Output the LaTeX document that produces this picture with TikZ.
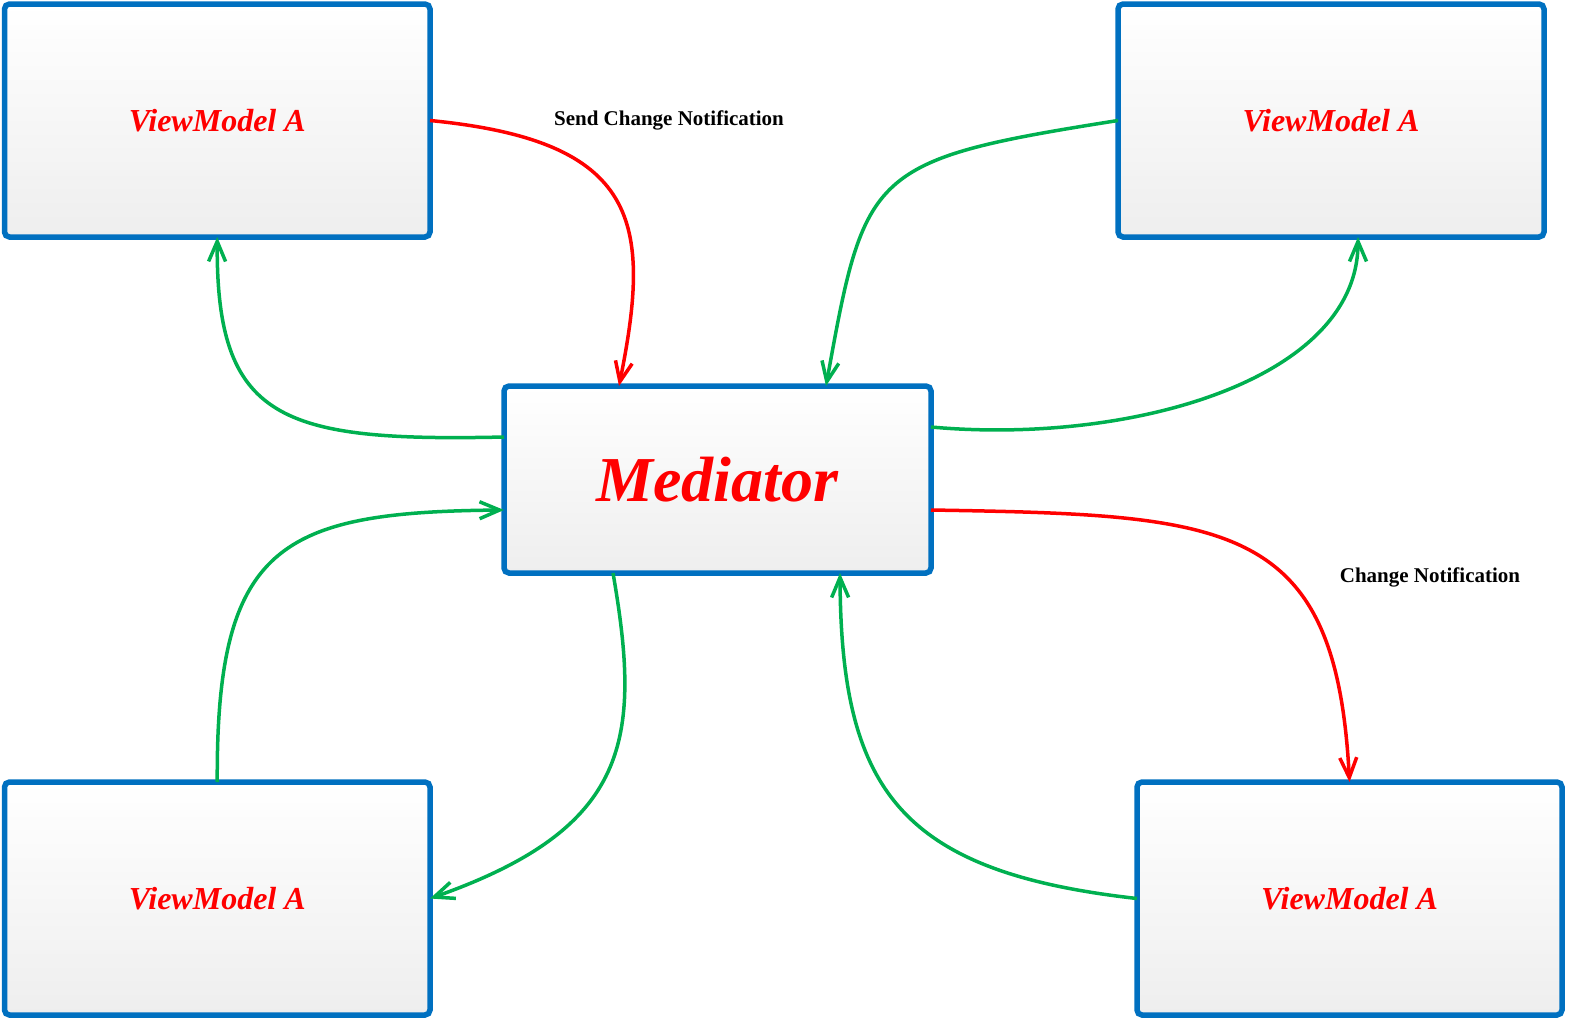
\documentclass[tikz,border=0pt]{standalone}
\usepackage{fontspec}
\setmainfont{Liberation Serif}
\usetikzlibrary{arrows.meta}
\definecolor{bblue}{RGB}{0,112,192}
\definecolor{cgreen}{RGB}{0,176,80}
\definecolor{cred}{RGB}{255,0,0}
\definecolor{fillbot}{RGB}{238,238,238}
\tikzset{
  box/.style={draw=bblue, line width=5.5pt, rounded corners=5pt, top color=white, bottom color=fillbot,
    outer sep=0pt, inner sep=0pt, text=cred, font=\fontsize{32}{36}\selectfont\bfseries\itshape},
  conn/.style={line width=3.5pt, -{Straight Barb[length=20pt,width=17pt]}},
  gline/.style={conn, draw=cgreen},
  rline/.style={conn, draw=cred},
  lbl/.style={text=black, font=\fontsize{21}{24}\selectfont\bfseries, inner sep=0pt}
}
\begin{document}
\begin{tikzpicture}[x=1pt,y=-1pt]
\useasboundingbox (0,0) rectangle (1569,1021);
\node[box, minimum width=425.5pt, minimum height=233pt] (tl) at (217.25,120.5) {ViewModel A};
\node[box, minimum width=426pt, minimum height=233pt] (tr) at (1331,120.5) {ViewModel A};
\node[box, minimum width=427pt, minimum height=187pt, font=\fontsize{64}{70}\selectfont\bfseries\itshape] (med) at (717.5,479.5) {Mediator};
\node[box, minimum width=425.5pt, minimum height=233pt] (bl) at (217.25,898.5) {ViewModel A};
\node[box, minimum width=425pt, minimum height=233pt] (br) at (1349.5,898.5) {ViewModel A};
\node[lbl] (l1) at (669,120) {Send Change Notification};
\node[lbl] (l2) at (1430,577) {Change Notification};
% 1 red: TL -> Mediator
\draw[rline] (tl.east) .. controls (640,141) and (652,222) .. ([xshift=-98.5pt]med.north);
% 2 green: Mediator -> TL
\draw[gline] ([yshift=42.5pt]med.west) .. controls (280,442) and (216,420) .. (tl.south);
% 3 green: TR -> Mediator
\draw[gline] (tr.west) .. controls (868,160) and (865,170) .. ([xshift=108.5pt]med.north);
% 4 green: Mediator -> TR
\draw[gline] ([yshift=52.5pt]med.east) .. controls (1130,445) and (1358,380) .. ([xshift=27pt]tr.south);
% 5 red: Mediator -> BR
\draw[rline] ([yshift=-30.5pt]med.east) .. controls (1230,515) and (1336,520) .. (br.north);
% 6 green: Mediator -> BL
\draw[gline] ([xshift=-104.5pt]med.south) .. controls (642,740) and (630,828) .. (bl.east);
% 7 green: BL -> Mediator
\draw[gline] (bl.north) .. controls (216,545) and (280,512) .. ([yshift=-30.5pt]med.west);
% 8 green: BR -> Mediator
\draw[gline] (br.west) .. controls (900,872) and (841,790) .. ([xshift=122.5pt]med.south);
\end{tikzpicture}
\end{document}
